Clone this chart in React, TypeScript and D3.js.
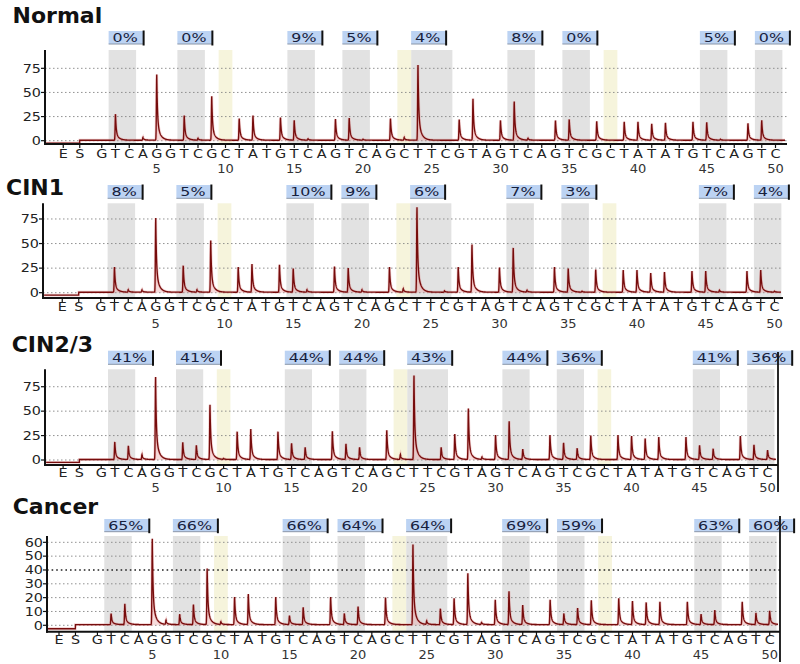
import React from "react";
import * as d3 from "d3";

// ---------- data ----------
const dispensations = ["G","T","C","A","G","G","T","C","G","C","T","A","T","G","T","C","A","G","T","C","A","G","C","T","T","C","G","T","A","G","T","C","A","G","T","C","G","C","T","A","T","A","T","G","T","C","A","G","T","C"];
const preLabels = [{ label: "E", pos: -1.8 }, { label: "S", pos: -0.6 }];
const positionTicks = [5, 10, 15, 20, 25, 30, 35, 40, 45, 50];
const cpgRanges = [[2, 3], [7, 8], [15, 16], [19, 20], [24, 26], [31, 32], [35, 36], [45, 46], [49, 50]];
const controlPositions = [10, 23, 38];

const panelTitles = ["Normal", "CIN1", "CIN2/3", "Cancer"];

const normalPeaks = [0,27,0,3,68,0,25.5,2,45.5,0,22.5,25.5,0,23.5,20.5,1.5,0,22,23,1,0,22.5,3,78,0,0,21.5,43,0,20.5,40,2,0,20.5,21.5,0,19.5,0,19,19,17,18,0,19,18.5,1,0,17.5,20.5,0];
const cin1Peaks = [0,25.5,2.5,2.5,75.5,0,27,2.5,52.5,0,25.5,28.5,0,28,24,2.5,0,26,24.5,2.5,0,25.5,3.5,86.5,0,1.5,25.5,48.5,0,25,45,2,0,25.5,24,1,23,0,22.5,22.5,19.5,20.5,0,21.5,21.5,2,0,21.5,22.5,1];
const cin23Peaks = [0,18,14,5,84.5,0,17.5,14.5,56,1,28.5,31,0,28.5,16.5,12.5,0,29,16,12.5,0,30,5,86,0,12.5,26,52,2.5,25,39,10.5,0,25,17,11.5,24.5,0,25,24,21.5,23,0,23,14.5,11,0,24,15,9.5];
const cancerPeaks = [0,8,15,0,62,3,7.5,14.5,40.5,2,20,22,0,20,6.5,12.5,0,20,8,13,0,19.5,0,58,2.5,11.5,19,37,1.5,18,24,14,0,18,8,12,17.5,0,19,17,16,16.5,0,16.5,7.5,10.5,0,16.5,8.5,10];

const normalPct = ["0%","0%","9%","5%","4%","8%","0%","5%","0%"];
const cin1Pct = ["8%","5%","10%","9%","6%","7%","3%","7%","4%"];
const cin23Pct = ["41%","41%","44%","44%","43%","44%","36%","41%","36%"];
const cancerPct = ["65%","66%","66%","64%","64%","69%","59%","63%","60%"];

const yTicksStd = [0, 25, 50, 75];
const yTicksCancer = [0, 10, 20, 30, 40, 50, 60];

// ---------- layout ----------
const layouts = [
  { titleX: 12.5, titleY: 22.7, boxTop: 31, boxH: 13, top: 50, zeroY: 140.7, unitPx: 0.965, axisY: 144, axisX: 45, xEnd: 787, pos0: 88, step: 13.75, letterY: 157.8, numY: 172.7, rightLine: null },
  { titleX: 6, titleY: 195, boxTop: 185, boxH: 13.3, top: 203.3, zeroY: 292.7, unitPx: 0.983, axisY: 298, axisX: 43, xEnd: 783, pos0: 87, step: 13.75, letterY: 311, numY: 328, rightLine: null },
  { titleX: 11.7, titleY: 351.5, boxTop: 350.7, boxH: 13.6, top: 369.3, zeroY: 460, unitPx: 0.977, axisY: 465, axisX: 45, xEnd: 778, pos0: 87.6, step: 13.6, letterY: 477, numY: 491.7, rightLine: { x: 778, y1: 352, y2: 492 } },
  { titleX: 12.7, titleY: 514.3, boxTop: 519, boxH: 12.7, top: 536, zeroY: 625.3, unitPx: 1.383, axisY: 631.7, axisX: 47, xEnd: 780, pos0: 83.7, step: 13.72, letterY: 643.6, numY: 659, rightLine: { x: 780, y1: 516, y2: 662 } },
];

const FONT = "'DejaVu Sans', Verdana, sans-serif";

function shape(t: number) {
  if (t < -0.15) return 0;
  if (t < 0) return Math.exp(-Math.pow(t / 0.035, 2));
  return 0.7 * Math.exp(-t / 0.05) + 0.3 * Math.exp(-t / 0.22);
}

function Panel({ lay, title, peaks, pct, yTicks, boldTick }: any) {
  const x = d3.scaleLinear().domain([0, 50]).range([lay.pos0, lay.pos0 + 50 * lay.step]);
  const y = d3
    .scaleLinear()
    .domain([(lay.zeroY - lay.axisY) / lay.unitPx, (lay.zeroY - lay.top) / lay.unitPx])
    .range([lay.axisY, lay.top]);
  const sPos = preLabels[1].pos;
  const uStart = x.invert(lay.axisX + 1);
  const uEnd = x.invert(lay.xEnd - 2);
  const pts: [number, number][] = [];
  for (let i = Math.ceil(uStart * 100); i <= Math.floor(uEnd * 100); i++) {
    const u = i / 100;
    let v = u < sPos ? -2.5 : 0.5;
    peaks.forEach((h: number, k: number) => {
      if (h > 0) v += h * shape(u - (k + 1));
    });
    pts.push([u, v]);
  }
  const line = d3.line<[number, number]>().x((d) => x(d[0])).y((d) => y(d[1]));
  const area = d3
    .area<[number, number]>()
    .x((d) => x(d[0]))
    .y0(y(0))
    .y1((d) => y(Math.max(0, d[1])));
  const bandH = lay.axisY - lay.top;

  return (
    <g>
      <text x={lay.titleX} y={lay.titleY} fontFamily={FONT} fontWeight="bold" fontSize={22} fill="#111">
        {title}
      </text>
      {cpgRanges.map(([a, b], i) => (
        <rect key={"g" + i} x={x(a - 0.5)} y={lay.top} width={x(b + 0.5) - x(a - 0.5)} height={bandH} fill="#e2e2e2" />
      ))}
      {controlPositions.map((p, i) => (
        <rect key={"c" + i} x={x(p - 0.5)} y={lay.top} width={x(p + 0.5) - x(p - 0.5)} height={bandH} fill="#f6f4dc" />
      ))}
      {cpgRanges.map(([a], i) => {
        const bx = x(a - 0.5);
        const w = pct[i].length > 2 ? 45 : 35;
        return (
          <g key={"b" + i}>
            <rect x={bx} y={lay.boxTop} width={w} height={lay.boxH} fill="#bcd3f3" />
            <line x1={bx} x2={bx + w} y1={lay.boxTop + lay.boxH} y2={lay.boxTop + lay.boxH} stroke="#8a96a8" strokeWidth={1} />
            <line x1={bx + w} x2={bx + w} y1={lay.boxTop - 0.5} y2={lay.boxTop + lay.boxH + 1.5} stroke="#111" strokeWidth={2} />
            <text
              transform={`translate(${bx + w / 2 - 1},${lay.boxTop + lay.boxH / 2 + 4.6}) scale(1.22,1)`}
              textAnchor="middle"
              fontFamily={FONT}
              fontSize={13}
              fill="#17213d"
            >
              {pct[i]}
            </text>
          </g>
        );
      })}
      {yTicks.map((t: number) => (
        <line
          key={"gl" + t}
          x1={lay.axisX}
          x2={lay.xEnd}
          y1={y(t)}
          y2={y(t)}
          stroke={t === boldTick ? "#222" : "#858585"}
          strokeWidth={t === boldTick ? 1.4 : 0.9}
          strokeDasharray={t === boldTick ? "1.6 3" : "1.5 2.5"}
        />
      ))}
      <path d={area(pts) || ""} fill="#e99a9a" opacity={0.35} />
      <path d={line(pts) || ""} fill="none" stroke="#e08080" strokeWidth={2.8} opacity={0.35} />
      <path d={line(pts) || ""} fill="none" stroke="#760c0c" strokeWidth={1.35} />
      <line x1={lay.axisX} x2={lay.axisX} y1={lay.top} y2={lay.axisY + 1} stroke="#111" strokeWidth={2} />
      <line x1={lay.axisX - 1} x2={lay.xEnd} y1={lay.axisY} y2={lay.axisY} stroke="#111" strokeWidth={2} />
      {yTicks.map((t: number) => (
        <g key={"yt" + t}>
          <line x1={lay.axisX - 4} x2={lay.axisX} y1={y(t)} y2={y(t)} stroke="#111" strokeWidth={1.2} />
          <text
            transform={`translate(${lay.axisX - 4},${y(t) + 4.3}) scale(1.2,1)`}
            textAnchor="end"
            fontFamily={FONT}
            fontSize={12}
            fill="#222"
          >
            {t}
          </text>
        </g>
      ))}
      {preLabels.map((p) => (
        <g key={p.label}>
          <line x1={x(p.pos)} x2={x(p.pos)} y1={lay.axisY} y2={lay.axisY + 4} stroke="#111" strokeWidth={1.2} />
          <text
            transform={`translate(${x(p.pos)},${lay.letterY}) scale(1.15,1)`}
            textAnchor="middle"
            fontFamily={FONT}
            fontSize={12.5}
            fill="#222"
          >
            {p.label}
          </text>
        </g>
      ))}
      {dispensations.map((d, i) => (
        <g key={"d" + i}>
          <line x1={x(i + 1)} x2={x(i + 1)} y1={lay.axisY} y2={lay.axisY + 4} stroke="#111" strokeWidth={1.2} />
          <text
            transform={`translate(${x(i + 1)},${lay.letterY}) scale(1.15,1)`}
            textAnchor="middle"
            fontFamily={FONT}
            fontSize={12.5}
            fill="#222"
          >
            {d}
          </text>
        </g>
      ))}
      {positionTicks.map((p) => (
        <text key={"n" + p} x={x(p)} y={lay.numY} textAnchor="middle" fontFamily={FONT} fontSize={13} fill="#333">
          {p}
        </text>
      ))}
      {lay.rightLine && (
        <line x1={lay.rightLine.x} x2={lay.rightLine.x} y1={lay.rightLine.y1} y2={lay.rightLine.y2} stroke="#111" strokeWidth={1.8} />
      )}
    </g>
  );
}

export default function App() {
  const peakSets = [normalPeaks, cin1Peaks, cin23Peaks, cancerPeaks];
  const pctSets = [normalPct, cin1Pct, cin23Pct, cancerPct];
  return (
    <svg width={800} height={664} style={{ position: "absolute", left: 0, top: 0, background: "#fff" }}>
      <rect x={0} y={0} width={800} height={664} fill="#fff" />
      {layouts.map((lay, i) => (
        <Panel
          key={i}
          lay={lay}
          title={panelTitles[i]}
          peaks={peakSets[i]}
          pct={pctSets[i]}
          yTicks={i === 3 ? yTicksCancer : yTicksStd}
          boldTick={i === 3 ? 40 : null}
        />
      ))}
    </svg>
  );
}
